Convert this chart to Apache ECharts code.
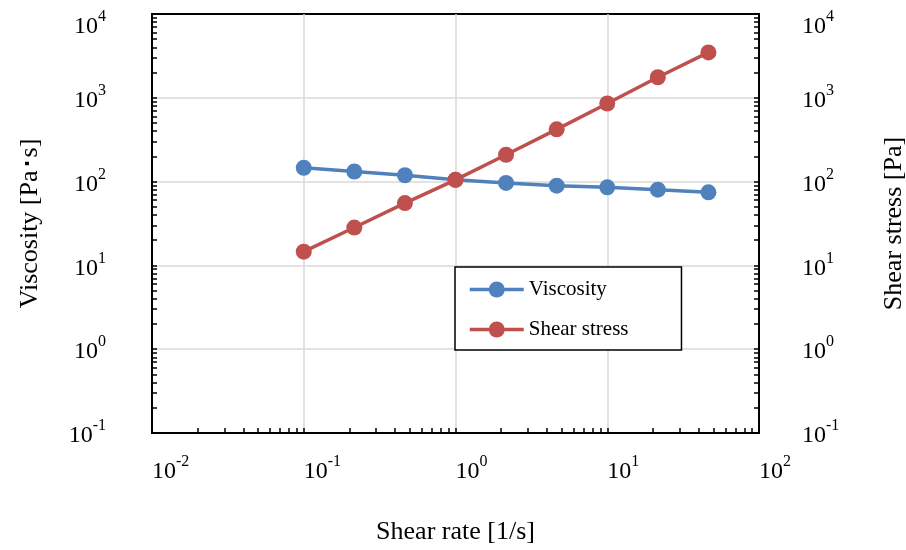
<!DOCTYPE html>
<html>
<head>
<meta charset="utf-8">
<script src="https://cdn.jsdelivr.net/npm/echarts@6/dist/echarts.min.js"></script>
<style>
  html, body { margin: 0; padding: 0; background: #ffffff; }
  #chart { width: 906px; height: 550px; }
</style>
</head>
<body>
<div id="chart"></div>
<script>
// Flow curve: shear rate sweep
const shearRate   = [0.1, 0.2154, 0.4642, 1, 2.154, 4.642, 10, 21.54, 46.42];   // [1/s]
const viscosity   = [146, 132, 119, 105, 96.5, 89.5, 85.4, 80.2, 74.4];         // [Pa·s]
const shearStress = [14.6, 28.3, 55.4, 105, 209, 420, 855, 1760, 3480];         // [Pa]

// Decade ticks (value) and their exponent labels
const xDecades   = [0.01, 0.1, 1, 10, 100];
const xExponents = ['-2', '-1', '0', '1', '2'];
const yDecades   = [0.1, 1, 10, 100, 1000, 10000];
const yExponents = ['-1', '0', '1', '2', '3', '4'];

const FONT = '"Liberation Serif", "Times New Roman", serif';

// minor tick positions 1..9 × each decade (inside the range)
function minorTicks(decades) {
  const out = [];
  for (let i = 0; i < decades.length - 1; i++) {
    for (let k = 1; k <= 9; k++) out.push(+(decades[i] * k).toPrecision(6));
  }
  out.push(decades[decades.length - 1]);
  return out;
}

function expLabel(decades, exps, dropTop) {
  return function (v) {
    let idx = -1;
    for (let i = 0; i < decades.length; i++) {
      if (Math.abs(Math.log10(v) - Math.log10(decades[i])) < 1e-6) idx = i;
    }
    if (idx < 0) return '';
    const txt = '{b|10}{s|' + exps[idx] + '}';
    // the top decade label sits a little lower, below the frame edge
    if (dropTop && idx === decades.length - 1) return '{gap| }\n' + txt;
    return txt;
  };
}

const rich = {
  b:   { fontFamily: FONT, fontSize: 24, color: '#000', lineHeight: 30, verticalAlign: 'bottom' },
  s:   { fontFamily: FONT, fontSize: 16, color: '#000', lineHeight: 18, verticalAlign: 'top' },
  gap: { fontSize: 10, lineHeight: 20 }
};

const chart = echarts.init(document.getElementById('chart'), null, { renderer: 'canvas' });

const axisLineStyle = { color: '#000', width: 2 };
const gridLine = { show: true, showMinLine: false, showMaxLine: false, lineStyle: { color: '#d9d9d9', width: 1.5 } };
const tickStyle = { color: '#000', width: 1.5 };

const option = {
  backgroundColor: '#ffffff',
  animation: false,
  grid: {
    left: 152, right: 147, top: 14, bottom: 117,
    outerBoundsMode: 'none',
    containLabel: false,
    show: true, borderColor: '#000', borderWidth: 2, backgroundColor: 'transparent'
  },
  legend: {
    orient: 'vertical',
    left: 455, top: 267,
    padding: [12, 53, 10, 13],
    itemGap: 19,
    itemWidth: 54,
    itemHeight: 20,
    backgroundColor: '#fff',
    borderColor: '#000',
    borderWidth: 1.5,
    lineStyle: { width: 3.5 },
    textStyle: { fontFamily: FONT, fontSize: 21, color: '#000', lineHeight: 20 },
    data: ['Viscosity', 'Shear stress']
  },
  xAxis: [
    {
      type: 'log', logBase: 10, min: 0.01, max: 100, position: 'bottom',
      name: 'Shear rate [1/s]', nameLocation: 'middle', nameGap: 86,
      nameTextStyle: { fontFamily: FONT, fontSize: 26, color: '#000' },
      axisLine: { show: true, lineStyle: axisLineStyle },
      axisTick: { show: false },
      axisLabel: { formatter: expLabel(xDecades, xExponents, false), rich: rich, margin: 21, align: 'left', showMinLabel: true, showMaxLabel: true },
      splitLine: gridLine
    },
    {
      // minor ticks on the shear-rate axis
      type: 'log', logBase: 10, min: 0.01, max: 100, position: 'bottom', gridIndex: 0,
      axisLine: { show: false },
      axisTick: { show: true, inside: true, length: 5, customValues: minorTicks(xDecades), lineStyle: tickStyle },
      axisLabel: { show: false },
      splitLine: { show: false }
    }
  ],
  yAxis: [
    {
      type: 'log', logBase: 10, min: 0.1, max: 10000, position: 'left',
      name: 'Viscosity [Pa･s]', nameLocation: 'middle', nameGap: 109, nameRotate: 90,
      nameTextStyle: { fontFamily: FONT, fontSize: 26, color: '#000' },
      axisLine: { show: true, lineStyle: axisLineStyle },
      axisTick: { show: false },
      axisLabel: { formatter: expLabel(yDecades, yExponents, true), rich: rich, margin: 46, showMinLabel: true, showMaxLabel: true },
      splitLine: gridLine
    },
    {
      type: 'log', logBase: 10, min: 0.1, max: 10000, position: 'right',
      name: 'Shear stress [Pa]', nameLocation: 'middle', nameGap: 122, nameRotate: 90,
      nameTextStyle: { fontFamily: FONT, fontSize: 26, color: '#000' },
      axisLine: { show: true, lineStyle: axisLineStyle },
      axisTick: { show: false },
      axisLabel: { formatter: expLabel(yDecades, yExponents, true), rich: rich, margin: 43, showMinLabel: true, showMaxLabel: true },
      splitLine: { show: false }
    },
    {
      // minor ticks, left
      type: 'log', logBase: 10, min: 0.1, max: 10000, position: 'left',
      axisLine: { show: false },
      axisTick: { show: true, inside: true, length: 5, customValues: minorTicks(yDecades), lineStyle: tickStyle },
      axisLabel: { show: false },
      splitLine: { show: false }
    },
    {
      // minor ticks, right
      type: 'log', logBase: 10, min: 0.1, max: 10000, position: 'right',
      axisLine: { show: false },
      axisTick: { show: true, inside: true, length: 5, customValues: minorTicks(yDecades), lineStyle: tickStyle },
      axisLabel: { show: false },
      splitLine: { show: false }
    }
  ],
  series: [
    {
      name: 'Viscosity', type: 'line', xAxisIndex: 0, yAxisIndex: 0,
      data: shearRate.map((x, i) => [x, viscosity[i]]),
      symbol: 'circle', symbolSize: 16,
      lineStyle: { color: '#4F81BD', width: 3.5 },
      itemStyle: { color: '#4F81BD' }
    },
    {
      name: 'Shear stress', type: 'line', xAxisIndex: 0, yAxisIndex: 1,
      data: shearRate.map((x, i) => [x, shearStress[i]]),
      symbol: 'circle', symbolSize: 16,
      lineStyle: { color: '#C0504D', width: 3.5 },
      itemStyle: { color: '#C0504D' }
    }
  ]
};

chart.setOption(option);
</script>
</body>
</html>
